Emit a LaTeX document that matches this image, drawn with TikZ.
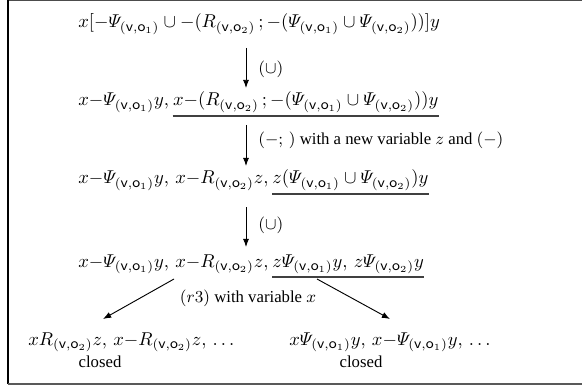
\documentclass[tikz,border=0pt]{standalone}
\usepackage[no-math]{fontspec}
\setmainfont{Liberation Serif}
\usepackage{fix-cm}
\usetikzlibrary{arrows.meta}
\newcommand{\vPsi}{\mathchar"0109}
\newcommand{\sfl}[1]{\mbox{\fontsize{8}{9}\selectfont\sffamily #1}}
\newcommand{\sub}[1]{_{(\sfl{v},\sfl{o}_{#1})}}
\newcommand{\Pv}[1]{\vPsi\sub{#1}}
\newcommand{\Rv}[1]{R\sub{#1}}
\begin{document}
\begin{tikzpicture}[x=0.538pt,y=-0.538pt,
  txt/.style={font=\normalsize, inner sep=0pt},
  lab/.style={font=\small, inner sep=0pt},
  stepline/.style={line width=0.5pt, -{Latex[length=4.4pt,width=3.3pt]}},
  uline/.style={line width=0.72pt, black!75}]
\useasboundingbox (0,0) rectangle (582,388);
\draw[line width=0.72pt, black!70] (8,0.7) -- (584,0.7);
\draw[line width=0.72pt, black] (8,0) -- (8,384);
\draw[line width=0.9pt, black!65] (8,384) -- (584,384);
% line 1
\node[txt, anchor=base west] (l1) at (78,28) {$x[{-}\Pv1 \cup {-}(\Rv2\,;{-}(\Pv1\cup\Pv2))]y$};
% line 2
\node[txt, anchor=base west] (l2a) at (78,106) {$x{-}\Pv1 y,\,$};
\node[txt, anchor=base west] (l2b) at (l2a.base east) {$x{-}(\Rv2\,;{-}(\Pv1\cup\Pv2))y$};
% line 3
\node[txt, anchor=base west] (l3a) at (78,184) {$x{-}\Pv1 y,\, x{-}\Rv2 z,\,$};
\node[txt, anchor=base west] (l3b) at (l3a.base east) {$z(\Pv1\cup\Pv2)y$};
% line 4
\node[txt, anchor=base west] (l4a) at (78,267) {$x{-}\Pv1 y,\, x{-}\Rv2 z,\,$};
\node[txt, anchor=base west] (l4b) at (l4a.base east) {$z\Pv1 y,\, z\Pv2 y$};
% bottom
\node[txt, anchor=base west] (b1) at (28,345) {$x\Rv2 z,\, x{-}\Rv2 z,\, \ldots$};
\node[lab] (c1) at (100,362) {closed};
\node[txt, anchor=base west] (b2) at (289,345) {$x\Pv1 y,\, x{-}\Pv1 y,\, \ldots$};
\node[lab] (c2) at (361,362) {closed};
% underlines
\draw[uline] ([yshift=-1.65pt]l2b.south west) -- ([yshift=-1.65pt]l2b.south east);
\draw[uline] ([yshift=-1.65pt]l3b.south west) -- ([yshift=-1.65pt]l3b.south east);
\draw[uline] ([yshift=-1.65pt]l4b.south west) -- ([yshift=-1.65pt]l4b.south east);
% arrows
\coordinate (a1s) at (246,48); \coordinate (a1e) at (246,88);
\coordinate (a2s) at (246,125); \coordinate (a2e) at (246,166);
\coordinate (a3s) at (246,207); \coordinate (a3e) at (246,247);
\draw[stepline] (a1s) -- (a1e);
\draw[stepline] (a2s) -- (a2e);
\draw[stepline] (a3s) -- (a3e);
\node[lab, anchor=west] (lab1) at (258,69) {$(\cup)$};
\node[lab, anchor=west] (lab2) at (258,140) {$(-;\,)$ with a new variable $z$ and $(-)$};
\node[lab, anchor=west] (lab3) at (258,225) {$(\cup)$};
\coordinate (ls) at (174,279); \coordinate (le) at (103,319);
\coordinate (rs) at (317,279); \coordinate (re) at (390,319);
\draw[stepline] (ls) -- (le);
\draw[stepline] (rs) -- (re);
\node[lab] (lab4) at (248,298) {$(r3)$ with variable $x$};
\end{tikzpicture}
\end{document}
